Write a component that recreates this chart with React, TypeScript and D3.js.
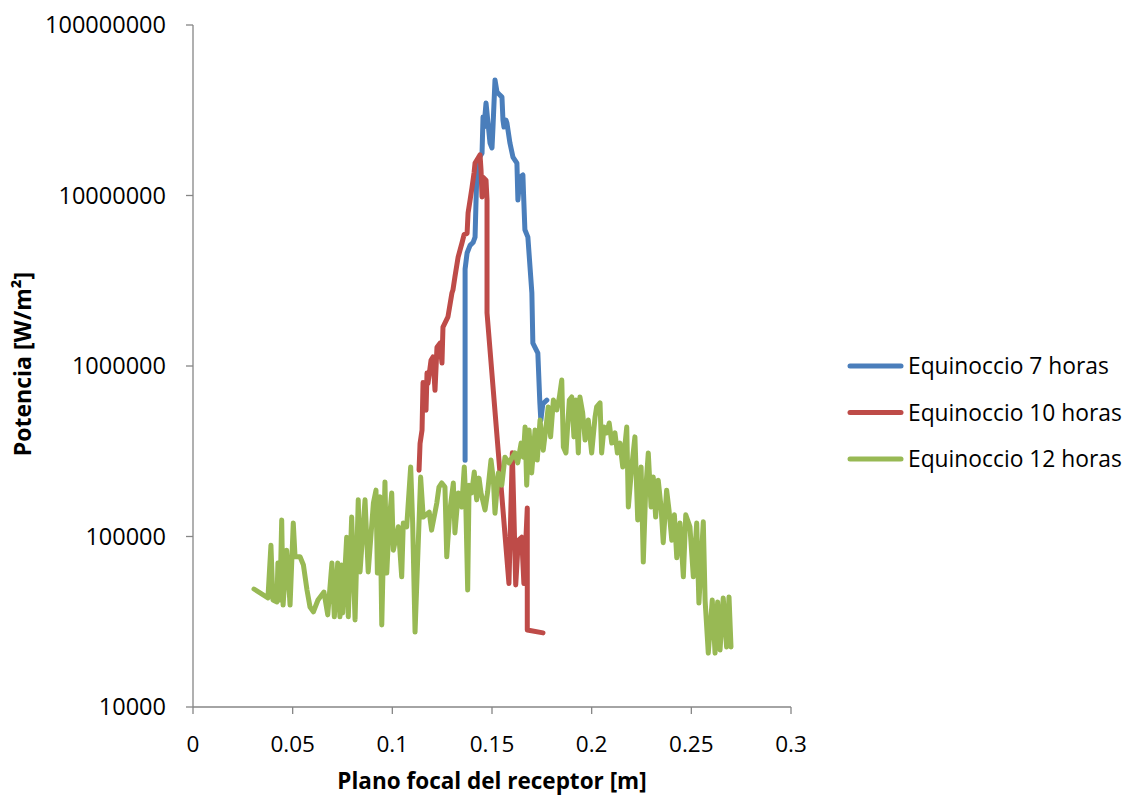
import React from "react";
import * as d3 from "d3";

const xTicks = [0, 0.05, 0.1, 0.15, 0.2, 0.25, 0.3];
const yTicks = [10000, 100000, 1000000, 10000000, 100000000];
const seriesNames = ["Equinoccio 7 horas", "Equinoccio 10 horas", "Equinoccio 12 horas"];
const seriesColors = ["#4A7EBB", "#BE4B48", "#98B954"];

const equinoccio7: [number, number][] = [
  [0.1365, 2.8e5], [0.1365, 3.7e6], [0.1375, 4.6e6], [0.139, 5.1e6], [0.1405, 5.3e6],
  [0.1415, 5.7e6], [0.142, 9.4e6], [0.1425, 1.41e7], [0.143, 1.62e7], [0.145, 1.77e7],
  [0.1455, 2.89e7], [0.146, 2.52e7], [0.147, 3.49e7], [0.148, 2.66e7], [0.149, 2.03e7],
  [0.15, 1.9e7], [0.1505, 2.52e7], [0.1515, 4.76e7], [0.1525, 4.05e7], [0.154, 3.88e7],
  [0.155, 3.78e7], [0.1555, 2.77e7], [0.156, 2.52e7], [0.157, 2.77e7], [0.1575, 2.66e7],
  [0.159, 2.03e7], [0.1605, 1.68e7], [0.1625, 1.55e7], [0.163, 9.4e6], [0.164, 1.28e7],
  [0.1655, 1.32e7], [0.1658, 1.04e7], [0.1665, 6.3e6], [0.168, 5.7e6], [0.17, 2.68e6],
  [0.1705, 1.36e6], [0.173, 1.19e6], [0.174, 6.1e5], [0.1745, 4.8e5], [0.1755, 6.0e5],
  [0.1775, 6.3e5],
];

const equinoccio10: [number, number][] = [
  [0.1134, 2.45e5], [0.1139, 3.5e5], [0.1149, 4.2e5], [0.1154, 8.0e5], [0.1164, 7.9e5],
  [0.1169, 5.5e5], [0.1174, 9.1e5], [0.1179, 7.9e5], [0.1194, 1.08e6], [0.1204, 1.13e6],
  [0.1214, 7.2e5], [0.1224, 1.29e6], [0.1239, 1.36e6], [0.1249, 1.04e6], [0.1254, 1.69e6],
  [0.1279, 1.94e6], [0.1299, 2.68e6], [0.1304, 2.79e6], [0.1314, 3.33e6], [0.133, 4.35e6],
  [0.135, 5.3e6], [0.136, 5.9e6], [0.1375, 6.0e6], [0.138, 7.9e6], [0.139, 9.4e6],
  [0.14, 1.12e7], [0.141, 1.36e7], [0.1415, 1.55e7], [0.1425, 1.62e7], [0.144, 1.73e7],
  [0.1445, 1.41e7], [0.145, 9.8e6], [0.1455, 1.28e7], [0.147, 1.23e7], [0.1475, 9.4e6],
  [0.1475, 2.05e6], [0.1585, 5.3e4], [0.1602, 3.1e5], [0.1619, 5.2e4], [0.1632, 9.5e4],
  [0.1649, 9.9e4], [0.166, 5.3e4], [0.1677, 1.47e5], [0.1677, 2.83e4], [0.1756, 2.72e4],
];

const equinoccio12: [number, number][] = [
  [0.0306, 4.92e4], [0.0376, 4.36e4], [0.0391, 8.9e4], [0.0401, 4.24e4], [0.0421, 4.13e4],
  [0.0426, 7.0e4], [0.0436, 4.24e4], [0.0445, 1.25e5], [0.0452, 3.96e4], [0.047, 8.3e4],
  [0.0487, 3.96e4], [0.0503, 1.2e5], [0.0512, 7.6e4], [0.0537, 7.6e4], [0.0554, 6.8e4],
  [0.0572, 4.85e4], [0.0587, 3.86e4], [0.0604, 3.62e4], [0.0627, 4.24e4], [0.0657, 4.72e4],
  [0.0676, 3.47e4], [0.0697, 7.0e4], [0.0709, 3.38e4], [0.0726, 7.0e4], [0.0737, 3.38e4],
  [0.0746, 6.8e4], [0.0751, 3.56e4], [0.0771, 9.9e4], [0.0779, 3.38e4], [0.0796, 1.3e5],
  [0.0813, 3.24e4], [0.0829, 1.64e5], [0.0838, 6.2e4], [0.0863, 1.64e5], [0.0879, 6.2e4],
  [0.0905, 1.57e5], [0.0918, 1.87e5], [0.0925, 6.1e4], [0.0938, 1.71e5], [0.0947, 3.03e4],
  [0.0963, 2.09e5], [0.0972, 6.1e4], [0.0985, 1.25e5], [0.0997, 1.8e5], [0.1005, 8.3e4],
  [0.103, 1.14e5], [0.1047, 5.8e4], [0.1055, 1.2e5], [0.1072, 1.14e5], [0.1092, 2.56e5],
  [0.1102, 1.2e5], [0.1114, 2.75e4], [0.1142, 2.23e5], [0.1155, 1.3e5], [0.1185, 1.39e5],
  [0.1197, 1.09e5], [0.1223, 1.57e5], [0.1234, 1.95e5], [0.1248, 2.06e5], [0.1264, 1.95e5],
  [0.1273, 7.6e4], [0.1289, 1.43e5], [0.1306, 2.06e5], [0.1314, 1.05e5], [0.1331, 1.8e5],
  [0.1348, 1.49e5], [0.1361, 2.56e5], [0.1368, 1.64e5], [0.1378, 4.85e4], [0.1385, 2.0e5],
  [0.1398, 1.8e5], [0.1411, 2.39e5], [0.1423, 1.64e5], [0.1435, 2.2e5], [0.1445, 1.8e5],
  [0.1465, 1.43e5], [0.1478, 1.82e5], [0.1495, 2.81e5], [0.1507, 2.14e5], [0.1515, 1.37e5],
  [0.1532, 2.36e5], [0.1549, 2.0e5], [0.1565, 2.92e5], [0.1585, 2.7e5], [0.1602, 2.92e5],
  [0.1615, 3.09e5], [0.1629, 2.7e5], [0.1646, 3.53e5], [0.1657, 2.92e5], [0.1666, 4.39e5],
  [0.1674, 2.0e5], [0.1686, 4.22e5], [0.1699, 2.36e5], [0.1716, 4.22e5], [0.1727, 2.81e5],
  [0.1741, 4.82e5], [0.1757, 3.21e5], [0.1771, 4.39e5], [0.1782, 5.75e5], [0.1794, 3.84e5],
  [0.1808, 6.32e5], [0.1825, 5.52e5], [0.1838, 6.58e5], [0.185, 8.28e5], [0.1858, 3.35e5],
  [0.1871, 3.09e5], [0.1888, 6.32e5], [0.19, 6.58e5], [0.1911, 3.84e5], [0.1921, 6.32e5],
  [0.1933, 3.09e5], [0.1941, 6.58e5], [0.1955, 5.3e5], [0.1967, 3.68e5], [0.1983, 4.82e5],
  [0.2, 3.09e5], [0.2017, 5.02e5], [0.2025, 5.75e5], [0.2042, 6.07e5], [0.205, 3.09e5],
  [0.2062, 4.39e5], [0.2075, 4.05e5], [0.2088, 4.63e5], [0.2101, 3.53e5], [0.2117, 4.05e5],
  [0.2129, 3.09e5], [0.2142, 3.53e5], [0.2156, 2.56e5], [0.2176, 4.39e5], [0.2184, 1.49e5],
  [0.2201, 2.56e5], [0.2217, 3.84e5], [0.2231, 1.25e5], [0.2248, 2.56e5], [0.2259, 7.08e4],
  [0.2271, 1.87e5], [0.2284, 3.09e5], [0.2298, 1.49e5], [0.2309, 2.23e5], [0.2321, 1.3e5],
  [0.2334, 2.14e5], [0.2348, 1.49e5], [0.2359, 9.2e4], [0.2376, 1.87e5], [0.2388, 1.43e5],
  [0.2402, 9.5e4], [0.2415, 1.34e5], [0.2427, 7.5e4], [0.2443, 1.2e5], [0.246, 5.8e4],
  [0.2472, 1.34e5], [0.2493, 1.14e5], [0.251, 5.8e4], [0.2527, 1.2e5], [0.2538, 4.07e4],
  [0.256, 1.22e5], [0.2569, 4.24e4], [0.2585, 2.07e4], [0.2605, 4.24e4], [0.2619, 2.07e4],
  [0.2632, 4.13e4], [0.2644, 2.16e4], [0.266, 4.36e4], [0.2677, 2.25e4], [0.2689, 4.42e4],
  [0.2699, 2.25e4],
];

const allSeries = [equinoccio7, equinoccio10, equinoccio12];

export default function App() {
  const W = 1128;
  const H = 795;
  const x = d3.scaleLinear().domain([0, 0.3]).range([193, 791]);
  const y = d3.scaleLog().domain([1e4, 1e8]).range([707, 25]);
  const line = d3
    .line<[number, number]>()
    .x((d) => x(d[0]))
    .y((d) => y(d[1]));
  const axisColor = "#868686";
  const font = "'Open Sans', 'Noto Sans', sans-serif";

  return (
    <svg
      width={W}
      height={H}
      style={{ position: "absolute", left: 0, top: 0, background: "#fff" }}
    >
      {/* y axis */}
      <line x1={193} x2={193} y1={25} y2={707} stroke={axisColor} strokeWidth={1.3} />
      {yTicks.map((t) => (
        <g key={"y" + t}>
          <line x1={186} x2={193} y1={y(t)} y2={y(t)} stroke={axisColor} strokeWidth={1.3} />
          <text
            x={166}
            y={y(t)}
            dy="0.36em"
            textAnchor="end"
            fontFamily={font}
            fontSize={23.5}
            fill="#000"
          >
            {String(t)}
          </text>
        </g>
      ))}
      {/* x axis */}
      <line x1={193} x2={791} y1={707} y2={707} stroke={axisColor} strokeWidth={1.3} />
      {xTicks.map((t) => (
        <g key={"x" + t}>
          <line x1={x(t)} x2={x(t)} y1={707} y2={714} stroke={axisColor} strokeWidth={1.3} />
          <text
            x={x(t)}
            y={752}
            textAnchor="middle"
            fontFamily={font}
            fontSize={22.5}
            fill="#000"
          >
            {String(t)}
          </text>
        </g>
      ))}
      {/* axis titles */}
      <text
        x={492}
        y={789}
        textAnchor="middle"
        fontFamily={font}
        fontWeight="bold"
        fontSize={22.5}
        fill="#000"
      >
        Plano focal del receptor [m]
      </text>
      <text
        transform={`translate(31,364) rotate(-90)`}
        textAnchor="middle"
        fontFamily={font}
        fontWeight="bold"
        fontSize={23}
        fill="#000"
      >
        Potencia [W/m²]
      </text>
      {/* series */}
      {allSeries.map((s, i) => (
        <path
          key={"s" + i}
          d={line(s) || ""}
          fill="none"
          stroke={seriesColors[i]}
          strokeWidth={5}
          strokeLinejoin="round"
          strokeLinecap="round"
        />
      ))}
      {/* legend */}
      {seriesNames.map((n, i) => {
        const ly = 366 + i * 46.5;
        return (
          <g key={"l" + i}>
            <line
              x1={850}
              x2={901}
              y1={ly}
              y2={ly}
              stroke={seriesColors[i]}
              strokeWidth={5}
              strokeLinecap="round"
            />
            <text x={908} y={ly} dy="0.36em" fontFamily={font} fontSize={22.8} fill="#000">
              {n}
            </text>
          </g>
        );
      })}
    </svg>
  );
}
